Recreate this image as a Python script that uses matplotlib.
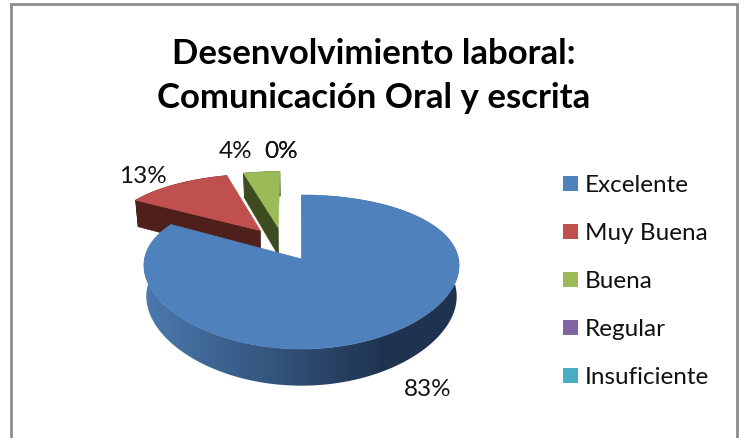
import numpy as np
import matplotlib
matplotlib.use("Agg")
import matplotlib.pyplot as plt
from matplotlib.patches import Rectangle, Polygon

plt.rcParams['font.family'] = ['Lato', 'DejaVu Sans']

categorias = ["Excelente", "Muy Buena", "Buena", "Regular", "Insuficiente"]
valores = [20, 3, 1, 0, 0]
etiquetas = ["83%", "13%", "4%", "0%", "0%"]
colores = ["#4f81bd", "#c0504d", "#9bbb59", "#8064a2", "#4bacc6"]
lados = ["#1f3350", "#4f1f1c", "#3d4c20", "#33283f", "#1e4550"]
titulo = "Desenvolvimiento laboral:\nComunicación Oral y escrita"

# donde va cada etiqueta, en pixeles
pos_etiquetas = [(428, 390), (143, 177), (236, 152), (281, 152), (281, 152)]

# perspectiva ajustada a ojo sobre el pastel
CX, CY, RX = 301.5, 260.0, 157.0
A, C, CU = -30.9, 0.1688, 0.085
ALTO = 30.5
EXPLOSION = 0.245


def proyectar(u, v, z=0.0):
    w = 1 + C * v
    x = CX + RX * u * (1 - 0.015 * z) / (1 + CU * v)
    y = (CY + A * v) / w + ALTO * z / w
    return x, y


fig = plt.figure(figsize=(7.45, 4.39), dpi=100)
ax = fig.add_axes([0, 0, 1, 1])
ax.axis("off")

total = sum(valores)
fracs = np.array(valores) / total
inicios = np.concatenate([[0], np.cumsum(fracs)[:-1]]) * 2 * np.pi
fines = np.cumsum(fracs) * 2 * np.pi

# centro comun: el azul queda en el origen de la perspectiva
bis0 = (inicios[0] + fines[0]) / 2
c0 = (-EXPLOSION * np.sin(bis0), -EXPLOSION * np.cos(bis0))

orden = [1, 2, 0]
for i in orden:
    t = np.linspace(inicios[i], fines[i], 240)
    bis = (inicios[i] + fines[i]) / 2
    ox = c0[0] + EXPLOSION * np.sin(bis)
    oy = c0[1] + EXPLOSION * np.cos(bis)
    u = ox + np.sin(t)
    v = oy + np.cos(t)
    xb, yb = proyectar(u, v, 1)
    xt, yt = proyectar(u, v)
    borde = np.c_[np.r_[xt, xb[::-1]], np.r_[yt, yb[::-1]]]

    if i != 0:
        # cara interna del corte y borde exterior (rojo y verde)
        p1 = proyectar(u[0], v[0])
        p2 = proyectar(ox, oy)
        p3 = proyectar(ox, oy, 1)
        p4 = proyectar(u[0], v[0], 1)
        ax.add_patch(Polygon([p1, p2, p3, p4], closed=True, fc=lados[i], ec=lados[i], lw=0.5))
        ax.add_patch(Polygon(borde, closed=True, fc=lados[i], ec=lados[i], lw=0.5))
    else:
        # borde del azul con degradado horizontal
        s = np.clip((np.linspace(140, 470, 330) - 150) / 235, 0, 1)[None, :, None]
        ini = np.array(matplotlib.colors.to_rgb("#4a78ac"))
        fin = np.array(matplotlib.colors.to_rgb(lados[0]))
        im = ax.imshow(ini * (1 - s) + fin * s, extent=(140, 470, 400, 180), aspect="auto",
                       interpolation="bilinear", zorder=1)
        clip = Polygon(borde, closed=True, transform=ax.transData, fc="none", ec="none")
        ax.add_patch(clip)
        im.set_clip_path(clip)

    xt2, yt2 = proyectar(np.r_[ox, u], np.r_[oy, v])
    ax.add_patch(Polygon(np.c_[xt2, yt2], closed=True, fc=colores[i], ec=colores[i], lw=0.5, zorder=2))

for etiqueta, (x, y) in zip(etiquetas, pos_etiquetas):
    ax.text(x, y, etiqueta, ha="center", va="center", fontsize=17.5, color="#111111", zorder=3)

ax.text(373.5, 76, titulo, ha="center", va="center", fontsize=25, fontweight="bold",
        color="black", linespacing=1.43, zorder=3)

# leyenda
for i, cat in enumerate(categorias):
    y = 184.5 + i * 48.1
    ax.add_patch(Rectangle((563, y - 7.5), 15, 15, fc=colores[i], ec="none", zorder=3))
    ax.text(585, y + 1, cat, ha="left", va="center", fontsize=17.5, color="#111111", zorder=3)

# marco del grafico, abierto abajo
ax.plot([11, 11, 737, 737], [439, 5, 5, 439], color="#8c8c8c", lw=2, solid_joinstyle="miter", zorder=3)

ax.set_xlim(0, 745)
ax.set_ylim(439, 0)

fig.savefig("out.png", dpi=100)
